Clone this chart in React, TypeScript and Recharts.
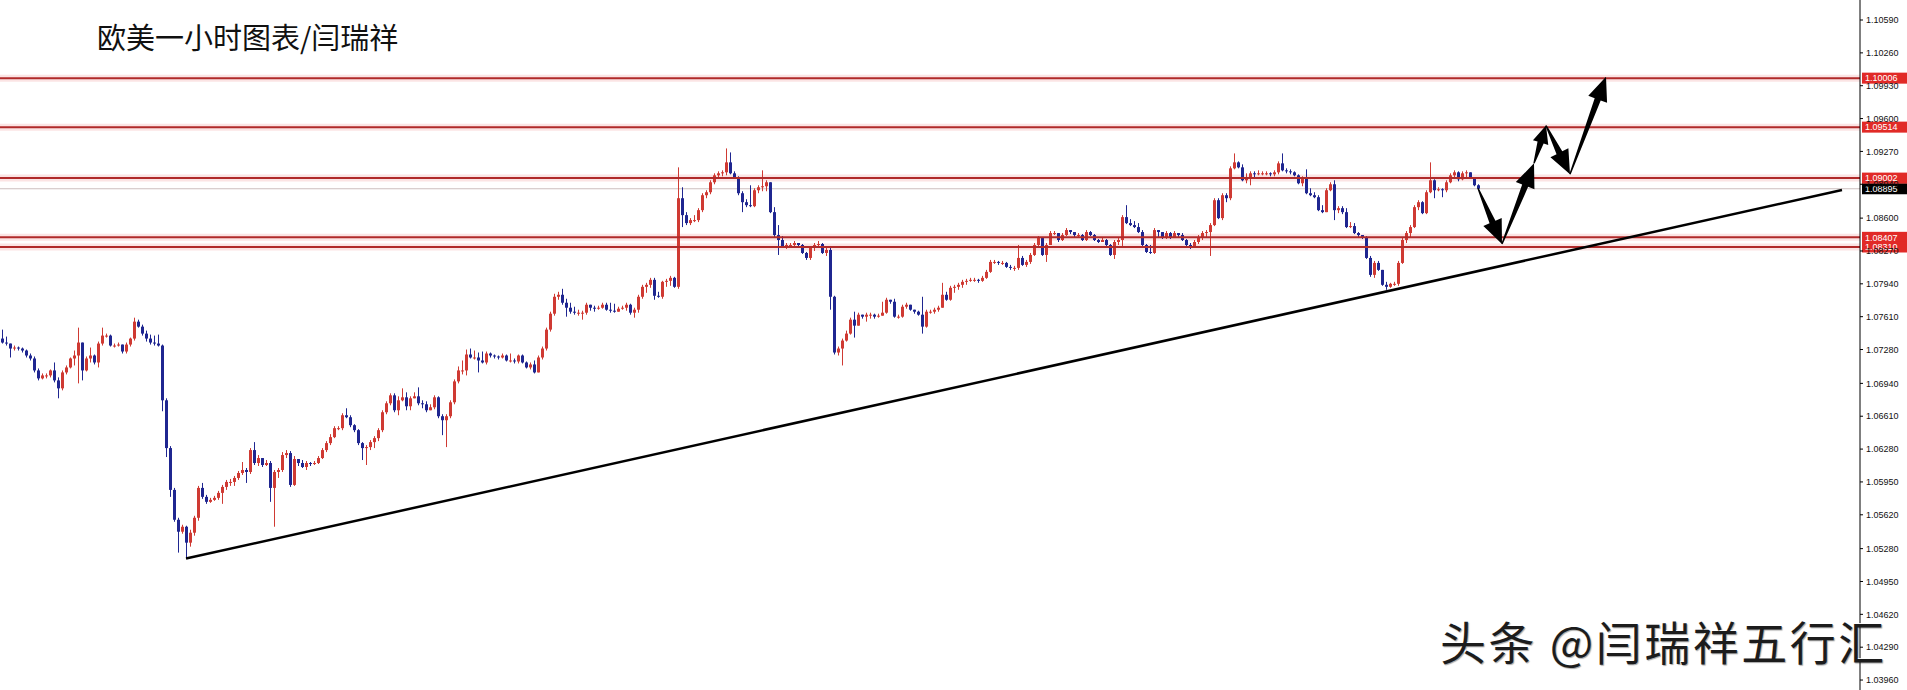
import { Bar, ComposedChart, ReferenceLine, XAxis, YAxis } from 'recharts'

// EURUSD hourly, prices kept in pips above 1.0000 (741 -> 1.0741); each candle opens at the previous close
const firstOpen = 739
const closePips = [
  735, 734, 729, 730, 729, 727, 722, 719, 707, 699, 702, 702, 707, 697, 689, 705, 710, 719, 722, 735,
  707, 719, 722, 715, 734, 742, 742, 732, 732, 733, 726, 733, 739, 756, 751, 744, 739, 735, 734, 732,
  677, 629, 587, 557, 545, 550, 534, 544, 559, 589, 580, 575, 577, 579, 584, 590, 595, 595, 599, 604,
  607, 605, 627, 614, 619, 612, 614, 589, 605, 607, 622, 624, 592, 618, 614, 610, 614, 613, 614, 619,
  627, 634, 640, 649, 649, 662, 660, 652, 647, 634, 629, 630, 635, 639, 647, 665, 674, 682, 667, 677,
  680, 671, 679, 681, 674, 673, 667, 670, 680, 661, 657, 661, 675, 696, 707, 707, 723, 720, 720, 717,
  715, 724, 722, 721, 720, 722, 717, 717, 716, 722, 715, 710, 713, 705, 720, 729, 748, 764, 781, 783,
  775, 770, 766, 765, 765, 765, 773, 770, 769, 770, 773, 768, 767, 766, 769, 770, 773, 765, 768, 781,
  791, 793, 798, 782, 781, 796, 797, 800, 791, 880, 863, 855, 858, 858, 868, 883, 886, 896, 903, 905,
  906, 916, 905, 901, 885, 876, 873, 872, 888, 891, 892, 896, 866, 843, 838, 831, 833, 833, 835, 833,
  825, 820, 830, 833, 834, 825, 828, 781, 725, 729, 737, 744, 758, 752, 763, 761, 763, 763, 761, 762,
  765, 778, 776, 761, 761, 771, 773, 768, 766, 763, 751, 766, 766, 768, 770, 783, 778, 790, 791, 793,
  796, 797, 798, 798, 797, 800, 806, 816, 816, 815, 815, 811, 810, 810, 820, 813, 816, 823, 833, 840,
  823, 833, 845, 845, 838, 843, 848, 846, 843, 843, 838, 846, 843, 838, 836, 838, 833, 823, 836, 838,
  861, 855, 853, 851, 846, 833, 826, 825, 848, 846, 840, 845, 840, 845, 843, 838, 833, 831, 836, 841,
  845, 846, 853, 878, 860, 883, 880, 910, 916, 911, 898, 900, 905, 904, 905, 905, 905, 904, 906, 915,
  908, 907, 906, 903, 895, 900, 885, 883, 881, 868, 866, 888, 894, 868, 870, 866, 851, 852, 845, 843,
  841, 820, 803, 815, 808, 793, 791, 794, 794, 815, 838, 845, 851, 871, 876, 865, 886, 898, 888, 889,
  888, 896, 903, 906, 899, 905, 906, 901, 893, 889.5,
]
const highPips = [
  748, 741, 734, 732, 731, 730, 728, 724, 721, 709, 704, 704, 708, 715, 700, 707, 712, 720, 727, 750,
  735, 721, 730, 723, 736, 750, 744, 743, 734, 735, 733, 735, 740, 760, 758, 753, 747, 743, 742, 743,
  733, 679, 631, 589, 559, 552, 551, 547, 561, 591, 594, 582, 579, 581, 586, 592, 597, 598, 601, 606,
  615, 609, 629, 635, 622, 618, 617, 616, 607, 609, 625, 627, 626, 621, 616, 617, 616, 615, 616, 621,
  629, 636, 643, 651, 651, 664, 669, 662, 653, 648, 635, 632, 637, 641, 649, 667, 676, 684, 684, 681,
  689, 685, 681, 685, 690, 677, 676, 673, 682, 681, 663, 663, 677, 698, 711, 717, 728, 729, 727, 725,
  726, 726, 725, 723, 722, 724, 723, 724, 719, 723, 723, 716, 715, 717, 722, 731, 750, 766, 784, 786,
  789, 779, 775, 771, 768, 767, 775, 773, 772, 772, 775, 775, 775, 774, 771, 772, 775, 774, 770, 783,
  793, 795, 800, 800, 786, 797, 799, 802, 801, 911, 891, 866, 860, 863, 870, 885, 888, 898, 905, 907,
  908, 930, 926, 907, 902, 887, 879, 893, 890, 893, 908, 898, 896, 871, 853, 842, 835, 835, 837, 835,
  834, 826, 832, 835, 837, 835, 830, 832, 782, 731, 739, 747, 760, 766, 765, 763, 765, 765, 764, 764,
  776, 780, 778, 779, 763, 773, 775, 773, 768, 767, 781, 768, 768, 770, 772, 795, 786, 792, 793, 795,
  798, 799, 800, 800, 799, 802, 808, 818, 818, 817, 817, 816, 813, 812, 833, 822, 818, 825, 835, 842,
  840, 835, 847, 847, 845, 845, 850, 848, 845, 845, 844, 848, 847, 844, 839, 840, 839, 834, 838, 840,
  863, 873, 859, 857, 855, 848, 834, 833, 850, 848, 846, 847, 846, 847, 845, 845, 839, 835, 838, 843,
  847, 848, 855, 880, 880, 885, 885, 912, 925, 917, 914, 905, 907, 907, 908, 907, 907, 906, 908, 917,
  925, 910, 909, 907, 904, 902, 909, 890, 886, 883, 873, 890, 896, 898, 872, 872, 870, 856, 855, 846,
  843, 842, 822, 817, 817, 808, 796, 795, 796, 817, 840, 847, 853, 873, 878, 877, 888, 916, 899, 891,
  890, 898, 905, 908, 907, 907, 908, 906, 901, 894,
]
const lowPips = [
  734, 732, 720, 727, 727, 725, 720, 717, 705, 697, 698, 699, 700, 695, 679, 687, 703, 709, 712, 694,
  697, 706, 715, 713, 710, 732, 740, 731, 730, 731, 724, 724, 731, 737, 750, 742, 736, 733, 732, 731,
  666, 620, 580, 555, 524, 543, 518, 530, 541, 556, 578, 573, 574, 576, 577, 573, 587, 591, 591, 597,
  602, 594, 603, 612, 611, 610, 611, 575, 550, 599, 605, 619, 590, 591, 611, 609, 607, 611, 612, 613,
  618, 625, 632, 639, 647, 647, 659, 650, 645, 632, 617, 612, 627, 629, 636, 645, 663, 672, 665, 662,
  676, 667, 667, 679, 672, 669, 665, 667, 668, 659, 642, 630, 659, 673, 694, 703, 702, 719, 718, 705,
  714, 713, 720, 719, 718, 719, 716, 715, 714, 714, 714, 709, 708, 704, 705, 718, 727, 746, 762, 778,
  773, 761, 764, 763, 762, 758, 763, 767, 766, 768, 769, 767, 765, 765, 766, 768, 767, 763, 760, 765,
  779, 785, 790, 778, 780, 779, 791, 792, 790, 789, 851, 853, 853, 856, 856, 866, 880, 884, 894, 900,
  902, 903, 904, 900, 883, 866, 871, 871, 871, 885, 887, 887, 865, 841, 823, 830, 829, 831, 831, 831,
  824, 818, 818, 827, 831, 824, 822, 768, 723, 722, 712, 736, 743, 740, 752, 759, 756, 759, 759, 760,
  762, 764, 774, 760, 759, 760, 769, 767, 764, 762, 744, 750, 764, 764, 766, 770, 777, 777, 785, 788,
  790, 793, 796, 796, 795, 796, 799, 805, 814, 813, 813, 810, 808, 807, 808, 812, 811, 814, 822, 831,
  822, 816, 833, 843, 836, 837, 842, 844, 841, 841, 837, 837, 842, 837, 835, 836, 832, 822, 819, 833,
  832, 854, 852, 850, 845, 832, 825, 824, 824, 841, 839, 839, 839, 840, 841, 837, 832, 829, 830, 834,
  838, 841, 822, 852, 859, 858, 876, 878, 909, 910, 897, 895, 893, 901, 903, 903, 903, 902, 902, 904,
  907, 905, 904, 902, 894, 892, 884, 882, 880, 867, 865, 866, 887, 858, 865, 864, 850, 850, 844, 840,
  839, 819, 801, 800, 807, 792, 788, 790, 792, 792, 814, 835, 841, 850, 868, 864, 864, 885, 880, 887,
  881, 886, 895, 900, 897, 898, 901, 900, 892, 888,
]
// empty slots keep room on the right for the projection arrows
const slotCount = 465

const levelPrices = [1.10006, 1.09514, 1.09002, 1.08407, 1.0831]
const bidPrice = 1.08895
const priceTicks = [
  1.1059, 1.1026, 1.0993, 1.096, 1.0927, 1.0894, 1.086, 1.0827, 1.0794, 1.0761, 1.0728,
  1.0694, 1.0661, 1.0628, 1.0595, 1.0562, 1.0528, 1.0495, 1.0462, 1.0429, 1.0396,
]
const trendIdx = [46, 460]
const trendPrice = [1.0518, 1.08882]
const pathIdx = [369, 375, 383, 386, 392, 401]
const pathPrice = [1.089, 1.0834, 1.0915, 1.0953, 1.0904, 1.1002]

const UP = '#cf3a33'
const DOWN = '#1f2690'
const LEVEL = '#b02a2a'
const TAG = '#e12a27'
const AXIS_FONT = '"Liberation Sans", Arial, sans-serif'

const toPrice = (pips: number) => 1 + pips / 10000

const rows = Array.from({ length: slotCount }, (_, i) => {
  if (i >= closePips.length) return { i }
  const open = toPrice(i ? closePips[i - 1] : firstOpen)
  const close = toPrice(closePips[i])
  const high = Math.max(toPrice(highPips[i]), open, close)
  const low = Math.min(toPrice(lowPips[i]), open, close)
  return { i, open, close, high, low, range: [low, high] }
})

function Candle(props: any) {
  const { x, y, width, height, payload } = props
  if (!payload || payload.high == null) return null
  const { open, close, high, low } = payload
  const span = high - low || 1
  const at = (v: number) => y + ((high - v) / span) * height
  const cx = Math.floor(x + width / 2) + 0.5
  const color = close >= open ? UP : DOWN
  const top = at(Math.max(open, close))
  const bottom = at(Math.min(open, close))
  return (
    <g>
      <line x1={cx} x2={cx} y1={y} y2={y + height} stroke={color} strokeWidth={1} />
      <rect x={cx - 1.5} y={top} width={3} height={Math.max(1, bottom - top)} fill={color} />
    </g>
  )
}

function priceTag(text: string, fill: string) {
  return (props: any) => {
    const { viewBox } = props
    if (!viewBox) return null
    const x0 = viewBox.x + viewBox.width + 2
    const yc = viewBox.y
    return (
      <g>
        <rect x={x0} y={yc - 5.5} width={48} height={11} fill={fill} />
        <text x={x0 + 3} y={yc} dy="0.36em" fontSize={9} fill="#fff" fontFamily={AXIS_FONT}>
          {text}
        </text>
      </g>
    )
  }
}

// tapered brush arrow from (x1,y1) to a head at (x2,y2)
function Arrow(props: any) {
  const { x1, y1, x2, y2 } = props
  const dx = x2 - x1
  const dy = y2 - y1
  const len = Math.hypot(dx, dy) || 1
  const ux = dx / len
  const uy = dy / len
  const nx = -uy
  const ny = ux
  const head = Math.min(24, len * 0.45)
  const wing = Math.min(10, head * 0.45)
  const bx = x2 - ux * head
  const by = y2 - uy * head
  const pts = [
    [x1 + nx * 0.7, y1 + ny * 0.7],
    [bx + nx * 3.2, by + ny * 3.2],
    [bx + nx * wing, by + ny * wing],
    [x2, y2],
    [bx - nx * wing, by - ny * wing],
    [bx - nx * 3.2, by - ny * 3.2],
    [x1 - nx * 0.7, y1 - ny * 0.7],
  ]
  return <polygon points={pts.map((p) => p.join(',')).join(' ')} fill="#000" />
}

export default function App() {
  return (
    <div style={{ position: 'absolute', left: 0, top: 0, width: 1907, height: 690, background: '#fff', overflow: 'hidden' }}>
      <ComposedChart width={1907} height={690} data={rows} margin={{ top: 0, right: 0, bottom: 0, left: 0 }} barCategoryGap={0}>
        <XAxis dataKey="i" hide />
        <YAxis
          orientation="right"
          width={47}
          type="number"
          domain={[1.0386, 1.10791]}
          allowDataOverflow
          ticks={priceTicks}
          interval={0}
          tickFormatter={(v: number) => v.toFixed(5)}
          axisLine={{ stroke: '#000', strokeWidth: 1 }}
          tickLine={{ stroke: '#000' }}
          tickSize={3}
          tickMargin={3}
          tick={{ fontSize: 9, fill: '#111', fontFamily: AXIS_FONT }}
        />
        {/* pale band under each level, kept beneath the candles */}
        {levelPrices.map((p) => (
          <ReferenceLine key={`band-${p}`} y={p} stroke="#fbe4e4" strokeWidth={7} zIndex={100} />
        ))}
        <ReferenceLine y={bidPrice} stroke="#cdbfbf" strokeWidth={1} zIndex={150} label={priceTag(bidPrice.toFixed(5), '#000')} />
        <Bar dataKey="range" barSize={3} shape={Candle} isAnimationActive={false} />
        {levelPrices.map((p) => (
          <ReferenceLine key={p} y={p} stroke={LEVEL} strokeWidth={2} label={priceTag(p.toFixed(5), TAG)} />
        ))}
        <ReferenceLine
          segment={[
            { x: trendIdx[0], y: trendPrice[0] },
            { x: trendIdx[1], y: trendPrice[1] },
          ]}
          stroke="#000"
          strokeWidth={2.5}
        />
        {pathIdx.slice(1).map((idx, k) => (
          <ReferenceLine
            key={idx}
            segment={[
              { x: pathIdx[k], y: pathPrice[k] },
              { x: idx, y: pathPrice[k + 1] },
            ]}
            shape={Arrow}
          />
        ))}
      </ComposedChart>
      <div
        style={{
          position: 'absolute',
          left: 97,
          top: 22,
          fontSize: 29,
          lineHeight: '29px',
          fontFamily: '"Noto Sans CJK SC", sans-serif',
          color: '#111',
          whiteSpace: 'nowrap',
        }}
      >
        欧美一小时图表/闫瑞祥
      </div>
      <div
        style={{
          position: 'absolute',
          left: 1440,
          top: 617,
          fontSize: 46,
          lineHeight: '46px',
          letterSpacing: 2.5,
          fontFamily: '"Noto Sans CJK SC", sans-serif',
          color: '#1c1c1c',
          whiteSpace: 'nowrap',
          textShadow: '-1px -1px 0 rgba(255,255,255,0.9), 1px 1px 1px rgba(0,0,0,0.35)',
        }}
      >
        头条 @闫瑞祥五行汇
      </div>
    </div>
  )
}
